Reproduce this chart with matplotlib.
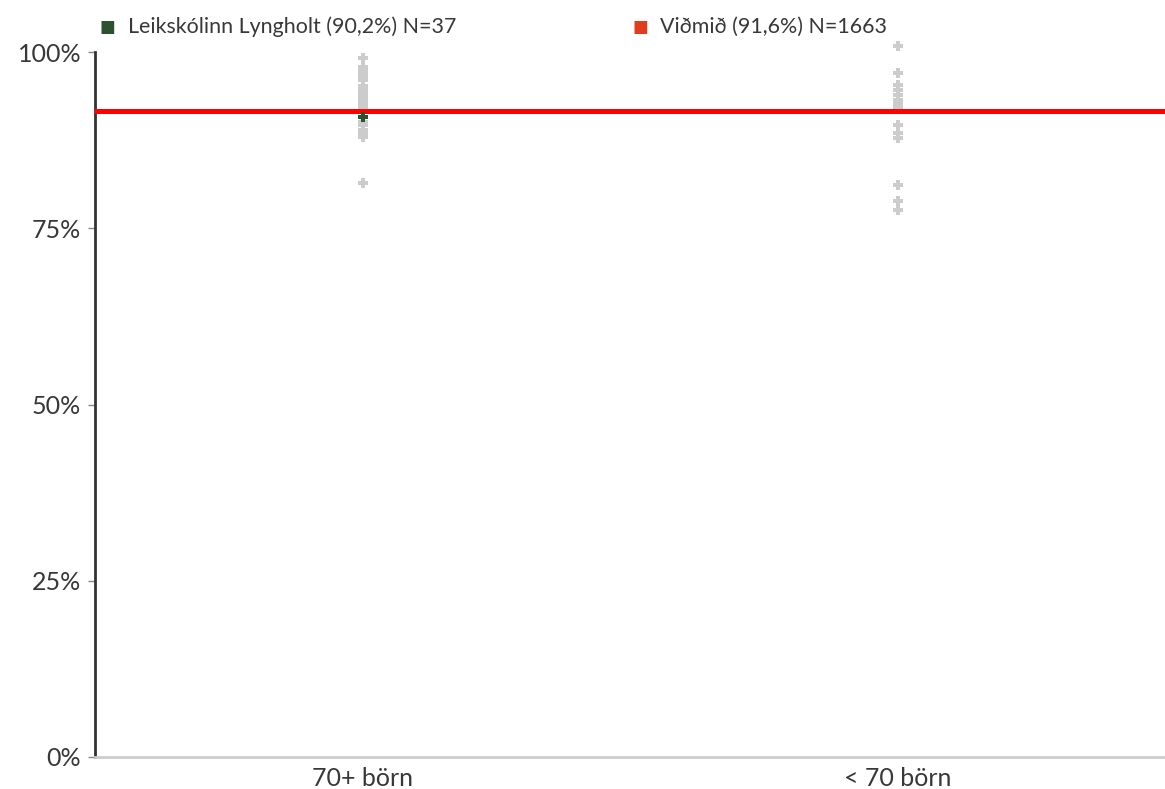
import matplotlib
matplotlib.use("Agg")
import matplotlib.pyplot as plt

# data (percent)
categories = ["70+ börn", "< 70 börn"]
other_70plus = [99.1, 97.9, 97.4, 96.9, 96.5, 96.0, 95.2, 94.8, 94.5, 94.0,
                93.6, 93.0, 92.6, 92.2, 90.1, 89.6, 88.9, 88.4, 87.9, 81.4]
other_under70 = [100.8, 97.0, 95.3, 94.6, 93.9, 93.2, 92.8, 92.5, 92.0,
                 89.6, 88.5, 87.8, 81.1, 78.8, 77.6]
school_value = [90.8]          # dark point in the 70+ column
benchmark = 91.6
legend_labels = ["Leikskólinn Lyngholt (90,2%) N=37", "Viðmið (91,6%) N=1663"]
yticks = [0, 25, 50, 75, 100]

plt.rcParams['font.family'] = ['Lato', 'DejaVu Sans']
text_col = "#383838"

fig = plt.figure(figsize=(11.65, 7.89), dpi=100)
ax = fig.add_axes([95 / 1165, 32 / 789, 1070 / 1165, 705 / 789])

# grey points of other schools
ax.scatter([0] * len(other_70plus), other_70plus, marker='P', s=50,
           color="#cccccc", linewidths=0, zorder=2, clip_on=False)
ax.scatter([1] * len(other_under70), other_under70, marker='P', s=50,
           color="#cccccc", linewidths=0, zorder=2, clip_on=False)

# benchmark line
ax.axhline(benchmark, color="#ff0000", lw=3.6, zorder=3)

# this school's point
ax.scatter([0], school_value, marker='P', s=50, color="#2d5230",
           linewidths=0, zorder=4, clip_on=False)

ax.set_xlim(-0.5, 1.5)
ax.set_ylim(0, 100)
ax.set_xticks([0, 1])
ax.set_xticklabels(categories, fontsize=18, color=text_col)
ax.set_yticks(yticks)
ax.set_yticklabels([f"{t}%" for t in yticks], fontsize=18, color=text_col)
ax.tick_params(axis='x', length=0, pad=7)
ax.tick_params(axis='y', length=5, width=1, color="#888888", pad=5)

for s in ["top", "right"]:
    ax.spines[s].set_visible(False)
ax.spines["left"].set_color("#333333")
ax.spines["left"].set_linewidth(2)
ax.spines["bottom"].set_color("#cccccc")
ax.spines["bottom"].set_linewidth(2)

# legend drawn as text on top
fig.text(107 / 1165, 1 - 27 / 789, "■", color="#2d5230", fontsize=12,
         family=['DejaVu Sans'], ha='center', va='center')
fig.text(128 / 1165, 1 - 27 / 789, legend_labels[0], color=text_col,
         fontsize=15.4, ha='left', va='center')
fig.text(640 / 1165, 1 - 27 / 789, "■", color="#e03c1e", fontsize=12,
         family=['DejaVu Sans'], ha='center', va='center')
fig.text(660 / 1165, 1 - 27 / 789, legend_labels[1], color=text_col,
         fontsize=15.4, ha='left', va='center')

fig.savefig("out.png", dpi=100)
